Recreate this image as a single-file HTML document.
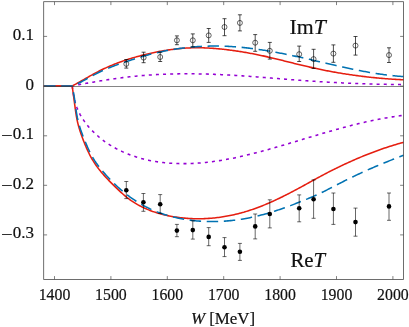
<!DOCTYPE html><html><head><meta charset="utf-8"><title>plot</title><style>html,body{margin:0;padding:0;background:#fff;overflow:hidden}body{width:409px;height:327px;font-family:"Liberation Serif",serif}</style></head><body><svg width="409" height="327" viewBox="0 0 409 327" style="display:block;will-change:transform">
<rect width="409" height="327" fill="#fff"/>
<path d="M72.20,86.00 L73.29,85.79 L74.38,85.58 L75.48,85.37 L76.57,85.16 L77.66,84.95 L78.75,84.75 L79.85,84.54 L80.94,84.34 L82.04,84.13 L83.13,83.93 L84.22,83.73 L85.32,83.53 L86.41,83.33 L87.51,83.13 L88.61,82.93 L89.70,82.74 L90.80,82.54 L91.89,82.35 L92.99,82.16 L94.09,81.97 L95.19,81.78 L96.28,81.59 L97.38,81.40 L98.48,81.22 L99.58,81.04 L100.68,80.85 L101.77,80.68 L102.87,80.50 L103.97,80.32 L105.07,80.15 L106.17,79.98 L107.27,79.81 L108.37,79.64 L109.47,79.47 L110.57,79.31 L111.67,79.14 L112.78,78.98 L113.88,78.82 L114.98,78.67 L116.08,78.51 L117.18,78.36 L118.29,78.21 L119.39,78.06 L120.49,77.92 L121.59,77.78 L122.70,77.64 L123.80,77.50 L124.91,77.36 L126.01,77.23 L127.11,77.10 L128.22,76.97 L129.32,76.84 L130.43,76.72 L131.53,76.60 L132.64,76.48 L133.74,76.37 L134.85,76.26 L135.95,76.15 L137.06,76.04 L138.17,75.94 L139.27,75.84 L140.38,75.74 L141.49,75.64 L142.59,75.55 L143.70,75.46 L144.81,75.37 L145.92,75.29 L147.02,75.20 L148.13,75.12 L149.24,75.05 L150.35,74.97 L151.46,74.90 L152.56,74.83 L153.67,74.76 L154.78,74.69 L155.89,74.63 L157.00,74.57 L158.11,74.51 L159.22,74.46 L160.33,74.40 L161.44,74.35 L162.55,74.30 L163.66,74.26 L164.77,74.21 L165.88,74.17 L166.99,74.13 L168.10,74.10 L169.21,74.06 L170.32,74.03 L171.43,74.00 L172.54,73.97 L173.65,73.95 L174.76,73.92 L175.87,73.90 L176.98,73.88 L178.09,73.86 L179.20,73.85 L180.31,73.83 L181.43,73.82 L182.54,73.81 L183.65,73.81 L184.76,73.80 L185.87,73.80 L186.98,73.80 L188.09,73.80 L189.21,73.80 L190.32,73.81 L191.43,73.81 L192.54,73.82 L193.65,73.83 L194.76,73.84 L195.88,73.86 L196.99,73.87 L198.10,73.89 L199.21,73.91 L200.32,73.93 L201.44,73.95 L202.55,73.98 L203.66,74.01 L204.77,74.03 L205.88,74.06 L207.00,74.10 L208.11,74.13 L209.22,74.16 L210.33,74.20 L211.44,74.24 L212.55,74.28 L213.67,74.32 L214.78,74.36 L215.89,74.41 L217.00,74.45 L218.11,74.50 L219.22,74.55 L220.34,74.60 L221.45,74.65 L222.56,74.71 L223.67,74.76 L224.78,74.82 L225.89,74.87 L227.00,74.93 L228.11,74.99 L229.23,75.06 L230.34,75.12 L231.45,75.18 L232.56,75.25 L233.67,75.31 L234.78,75.38 L235.89,75.45 L237.00,75.52 L238.11,75.59 L239.22,75.66 L240.33,75.74 L241.44,75.81 L242.56,75.88 L243.67,75.96 L244.78,76.04 L245.89,76.11 L247.00,76.19 L248.11,76.27 L249.22,76.35 L250.33,76.43 L251.44,76.51 L252.55,76.60 L253.66,76.68 L254.77,76.76 L255.88,76.84 L256.99,76.93 L258.10,77.01 L259.21,77.10 L260.32,77.19 L261.43,77.27 L262.54,77.36 L263.65,77.45 L264.76,77.53 L265.87,77.62 L266.98,77.71 L268.09,77.80 L269.20,77.88 L270.31,77.97 L271.42,78.06 L272.53,78.15 L273.64,78.24 L274.75,78.33 L275.86,78.42 L276.96,78.51 L278.07,78.60 L279.18,78.69 L280.29,78.77 L281.40,78.86 L282.51,78.95 L283.62,79.04 L284.73,79.13 L285.84,79.22 L286.95,79.31 L288.06,79.39 L289.17,79.48 L290.28,79.57 L291.39,79.65 L292.50,79.74 L293.61,79.83 L294.72,79.91 L295.83,80.00 L296.94,80.08 L298.05,80.16 L299.16,80.25 L300.27,80.33 L301.38,80.41 L302.49,80.49 L303.60,80.57 L304.70,80.65 L305.81,80.73 L306.92,80.81 L308.03,80.89 L309.14,80.97 L310.25,81.04 L311.36,81.12 L312.47,81.19 L313.58,81.27 L314.69,81.34 L315.80,81.41 L316.91,81.48 L318.02,81.55 L319.13,81.62 L320.24,81.69 L321.35,81.76 L322.46,81.83 L323.57,81.89 L324.68,81.96 L325.79,82.02 L326.90,82.09 L328.01,82.15 L329.12,82.21 L330.23,82.27 L331.34,82.34 L332.45,82.40 L333.56,82.45 L334.67,82.51 L335.78,82.57 L336.89,82.63 L338.00,82.68 L339.11,82.74 L340.22,82.79 L341.33,82.85 L342.44,82.90 L343.56,82.95 L344.67,83.00 L345.78,83.06 L346.89,83.11 L348.00,83.15 L349.11,83.20 L350.22,83.25 L351.33,83.30 L352.44,83.34 L353.55,83.39 L354.66,83.43 L355.77,83.48 L356.88,83.52 L358.00,83.56 L359.11,83.60 L360.22,83.64 L361.33,83.68 L362.44,83.72 L363.55,83.76 L364.66,83.79 L365.77,83.83 L366.89,83.87 L368.00,83.90 L369.11,83.94 L370.22,83.97 L371.33,84.00 L372.44,84.03 L373.56,84.06 L374.67,84.09 L375.78,84.12 L376.89,84.15 L378.00,84.18 L379.12,84.21 L380.23,84.23 L381.34,84.26 L382.45,84.28 L383.57,84.30 L384.68,84.33 L385.79,84.35 L386.90,84.37 L388.02,84.39 L389.13,84.41 L390.24,84.43 L391.35,84.45 L392.47,84.47 L393.58,84.48 L394.69,84.50 L395.81,84.51 L396.92,84.53 L398.03,84.54 L399.15,84.55 L400.26,84.56 L401.37,84.58 L402.49,84.59 L403.60,84.60" fill="none" stroke="#9400D3" stroke-width="1.55" stroke-linejoin="round" stroke-linecap="butt" stroke-dasharray="3 4.13" stroke-dashoffset="-6.13"/>
<path d="M72.20,86.00 L72.36,87.24 L72.52,88.49 L72.69,89.73 L72.87,90.98 L73.06,92.22 L73.27,93.46 L73.48,94.70 L73.72,95.94 L73.96,97.17 L74.23,98.40 L74.51,99.63 L74.81,100.84 L75.13,102.06 L75.48,103.26 L75.84,104.46 L76.23,105.65 L76.64,106.83 L77.08,108.00 L77.55,109.15 L78.04,110.30 L78.56,111.44 L79.10,112.57 L79.67,113.68 L80.26,114.79 L80.88,115.88 L81.51,116.96 L82.17,118.03 L82.85,119.09 L83.55,120.14 L84.27,121.18 L85.00,122.20 L85.76,123.21 L86.53,124.21 L87.31,125.20 L88.12,126.17 L88.94,127.13 L89.77,128.08 L90.62,129.02 L91.48,129.94 L92.35,130.85 L93.24,131.75 L94.14,132.63 L95.05,133.50 L95.98,134.36 L96.91,135.21 L97.86,136.04 L98.82,136.87 L99.80,137.67 L100.78,138.47 L101.77,139.25 L102.77,140.02 L103.79,140.77 L104.81,141.52 L105.84,142.24 L106.88,142.96 L107.93,143.66 L108.99,144.35 L110.05,145.03 L111.13,145.69 L112.21,146.34 L113.30,146.98 L114.39,147.60 L115.49,148.21 L116.60,148.81 L117.71,149.39 L118.83,149.96 L119.96,150.52 L121.09,151.06 L122.23,151.59 L123.37,152.11 L124.51,152.61 L125.67,153.10 L126.82,153.58 L127.98,154.05 L129.15,154.50 L130.32,154.94 L131.50,155.37 L132.68,155.79 L133.86,156.20 L135.05,156.59 L136.24,156.97 L137.44,157.34 L138.64,157.70 L139.84,158.05 L141.05,158.38 L142.26,158.70 L143.48,159.02 L144.69,159.32 L145.91,159.61 L147.14,159.89 L148.36,160.16 L149.59,160.41 L150.83,160.66 L152.06,160.90 L153.30,161.12 L154.54,161.34 L155.78,161.54 L157.02,161.74 L158.27,161.92 L159.51,162.10 L160.76,162.26 L162.01,162.42 L163.26,162.56 L164.51,162.70 L165.77,162.82 L167.02,162.94 L168.28,163.05 L169.54,163.15 L170.79,163.24 L172.05,163.32 L173.31,163.39 L174.57,163.45 L175.83,163.50 L177.09,163.55 L178.35,163.58 L179.61,163.61 L180.87,163.63 L182.13,163.64 L183.38,163.65 L184.64,163.64 L185.90,163.63 L187.16,163.61 L188.41,163.58 L189.67,163.54 L190.92,163.50 L192.17,163.45 L193.43,163.39 L194.68,163.32 L195.93,163.25 L197.18,163.17 L198.43,163.08 L199.68,162.99 L200.93,162.89 L202.17,162.78 L203.42,162.67 L204.67,162.55 L205.91,162.42 L207.16,162.28 L208.40,162.14 L209.64,162.00 L210.89,161.84 L212.13,161.68 L213.37,161.52 L214.61,161.35 L215.85,161.17 L217.09,160.99 L218.33,160.80 L219.57,160.61 L220.80,160.41 L222.04,160.21 L223.28,160.00 L224.51,159.78 L225.75,159.57 L226.98,159.34 L228.21,159.11 L229.45,158.88 L230.68,158.64 L231.91,158.40 L233.14,158.15 L234.37,157.90 L235.60,157.64 L236.83,157.38 L238.06,157.11 L239.29,156.85 L240.51,156.57 L241.74,156.30 L242.96,156.01 L244.19,155.73 L245.41,155.44 L246.64,155.15 L247.86,154.86 L249.08,154.56 L250.31,154.26 L251.53,153.95 L252.75,153.65 L253.97,153.33 L255.19,153.02 L256.41,152.71 L257.63,152.39 L258.84,152.06 L260.06,151.74 L261.28,151.41 L262.50,151.09 L263.71,150.75 L264.93,150.42 L266.14,150.09 L267.35,149.75 L268.57,149.41 L269.78,149.07 L270.99,148.73 L272.21,148.38 L273.42,148.04 L274.63,147.69 L275.84,147.34 L277.05,146.99 L278.26,146.64 L279.46,146.29 L280.67,145.93 L281.88,145.58 L283.09,145.23 L284.29,144.87 L285.50,144.51 L286.71,144.16 L287.91,143.80 L289.12,143.44 L290.32,143.08 L291.53,142.72 L292.73,142.36 L293.94,142.00 L295.14,141.64 L296.34,141.27 L297.55,140.91 L298.75,140.55 L299.95,140.19 L301.16,139.83 L302.36,139.46 L303.56,139.10 L304.77,138.74 L305.97,138.38 L307.17,138.02 L308.37,137.65 L309.58,137.29 L310.78,136.93 L311.98,136.57 L313.18,136.21 L314.39,135.85 L315.59,135.50 L316.79,135.14 L317.99,134.78 L319.20,134.43 L320.40,134.07 L321.60,133.72 L322.81,133.36 L324.01,133.01 L325.21,132.66 L326.42,132.31 L327.62,131.96 L328.83,131.62 L330.03,131.27 L331.24,130.93 L332.44,130.58 L333.65,130.24 L334.86,129.90 L336.06,129.57 L337.27,129.23 L338.48,128.89 L339.69,128.56 L340.89,128.23 L342.10,127.90 L343.31,127.58 L344.52,127.25 L345.73,126.93 L346.94,126.61 L348.16,126.29 L349.37,125.98 L350.58,125.66 L351.80,125.35 L353.01,125.04 L354.22,124.74 L355.44,124.44 L356.66,124.14 L357.87,123.84 L359.09,123.54 L360.31,123.25 L361.53,122.96 L362.75,122.68 L363.97,122.39 L365.19,122.11 L366.42,121.84 L367.64,121.56 L368.87,121.29 L370.09,121.03 L371.32,120.76 L372.55,120.50 L373.77,120.25 L375.00,120.00 L376.23,119.75 L377.47,119.50 L378.70,119.26 L379.93,119.02 L381.17,118.79 L382.40,118.56 L383.64,118.33 L384.88,118.11 L386.12,117.89 L387.36,117.68 L388.60,117.47 L389.84,117.26 L391.09,117.06 L392.33,116.87 L393.58,116.68 L394.83,116.49 L396.08,116.31 L397.33,116.13 L398.58,115.95 L399.84,115.79 L401.09,115.62 L402.35,115.46 L403.61,115.31" fill="none" stroke="#9400D3" stroke-width="1.55" stroke-linejoin="round" stroke-linecap="butt" stroke-dasharray="3 4.13" stroke-dashoffset="-0.02"/>
<path d="M43.7,86.0 L72.2,86.0 L72.20,86.00 L73.21,85.47 L74.22,84.92 L75.22,84.37 L76.22,83.82 L77.22,83.26 L78.21,82.70 L79.21,82.14 L80.20,81.58 L81.20,81.01 L82.19,80.45 L83.18,79.88 L84.17,79.31 L85.16,78.74 L86.16,78.18 L87.15,77.61 L88.14,77.05 L89.14,76.48 L90.13,75.92 L91.13,75.37 L92.13,74.81 L93.13,74.26 L94.13,73.71 L95.13,73.17 L96.14,72.63 L97.15,72.10 L98.17,71.58 L99.18,71.06 L100.20,70.55 L101.22,70.04 L102.25,69.54 L103.28,69.05 L104.31,68.56 L105.35,68.08 L106.39,67.61 L107.43,67.14 L108.48,66.69 L109.53,66.23 L110.58,65.78 L111.63,65.34 L112.69,64.91 L113.75,64.48 L114.81,64.06 L115.88,63.64 L116.94,63.23 L118.01,62.83 L119.09,62.43 L120.16,62.03 L121.24,61.65 L122.32,61.27 L123.40,60.89 L124.48,60.52 L125.57,60.16 L126.66,59.80 L127.75,59.44 L128.84,59.10 L129.93,58.75 L131.03,58.42 L132.13,58.09 L133.23,57.76 L134.33,57.44 L135.43,57.12 L136.53,56.81 L137.64,56.50 L138.74,56.20 L139.85,55.91 L140.96,55.62 L142.07,55.33 L143.18,55.05 L144.29,54.77 L145.41,54.50 L146.52,54.23 L147.64,53.97 L148.75,53.71 L149.87,53.45 L150.99,53.20 L152.11,52.96 L153.23,52.72 L154.35,52.48 L155.47,52.25 L156.59,52.03 L157.71,51.80 L158.84,51.59 L159.96,51.38 L161.08,51.17 L162.21,50.97 L163.33,50.77 L164.46,50.58 L165.59,50.40 L166.71,50.22 L167.84,50.04 L168.97,49.88 L170.10,49.71 L171.23,49.56 L172.36,49.40 L173.49,49.26 L174.62,49.12 L175.76,48.99 L176.89,48.86 L178.02,48.74 L179.16,48.63 L180.29,48.52 L181.43,48.42 L182.56,48.33 L183.70,48.24 L184.83,48.16 L185.97,48.08 L187.11,48.02 L188.25,47.96 L189.39,47.90 L190.52,47.86 L191.66,47.82 L192.80,47.79 L193.94,47.76 L195.08,47.75 L196.23,47.74 L197.37,47.74 L198.51,47.74 L199.65,47.75 L200.79,47.77 L201.94,47.80 L203.08,47.83 L204.22,47.87 L205.36,47.91 L206.51,47.96 L207.65,48.02 L208.79,48.08 L209.94,48.15 L211.08,48.22 L212.22,48.30 L213.36,48.38 L214.50,48.47 L215.65,48.56 L216.79,48.66 L217.93,48.76 L219.07,48.87 L220.21,48.98 L221.35,49.10 L222.49,49.22 L223.62,49.34 L224.76,49.47 L225.90,49.60 L227.04,49.74 L228.17,49.87 L229.31,50.02 L230.44,50.16 L231.58,50.31 L232.71,50.47 L233.84,50.62 L234.97,50.78 L236.11,50.95 L237.24,51.11 L238.37,51.29 L239.50,51.46 L240.63,51.64 L241.75,51.82 L242.88,52.00 L244.01,52.19 L245.14,52.38 L246.26,52.58 L247.39,52.78 L248.51,52.98 L249.63,53.18 L250.76,53.39 L251.88,53.60 L253.00,53.81 L254.12,54.03 L255.24,54.25 L256.36,54.47 L257.48,54.70 L258.60,54.93 L259.72,55.16 L260.84,55.40 L261.96,55.64 L263.07,55.88 L264.19,56.12 L265.30,56.37 L266.42,56.62 L267.53,56.87 L268.64,57.13 L269.76,57.38 L270.87,57.64 L271.98,57.91 L273.09,58.17 L274.20,58.44 L275.31,58.70 L276.42,58.97 L277.53,59.24 L278.64,59.51 L279.75,59.79 L280.86,60.06 L281.97,60.34 L283.08,60.61 L284.19,60.89 L285.29,61.16 L286.40,61.44 L287.51,61.72 L288.62,62.00 L289.73,62.27 L290.83,62.55 L291.94,62.83 L293.05,63.11 L294.16,63.38 L295.27,63.66 L296.38,63.93 L297.49,64.21 L298.60,64.48 L299.71,64.75 L300.82,65.02 L301.93,65.29 L303.04,65.56 L304.15,65.82 L305.26,66.09 L306.37,66.35 L307.49,66.61 L308.60,66.87 L309.71,67.12 L310.83,67.37 L311.94,67.62 L313.06,67.87 L314.17,68.12 L315.29,68.36 L316.41,68.60 L317.53,68.84 L318.64,69.08 L319.76,69.31 L320.88,69.54 L322.00,69.77 L323.12,69.99 L324.24,70.22 L325.36,70.44 L326.49,70.66 L327.61,70.87 L328.73,71.09 L329.86,71.30 L330.98,71.51 L332.10,71.72 L333.23,71.92 L334.35,72.12 L335.48,72.32 L336.60,72.52 L337.73,72.71 L338.86,72.90 L339.99,73.09 L341.11,73.28 L342.24,73.46 L343.37,73.65 L344.50,73.83 L345.63,74.00 L346.76,74.18 L347.89,74.35 L349.02,74.52 L350.15,74.69 L351.28,74.85 L352.41,75.02 L353.54,75.18 L354.68,75.33 L355.81,75.49 L356.94,75.64 L358.07,75.79 L359.21,75.94 L360.34,76.09 L361.48,76.23 L362.61,76.37 L363.74,76.51 L364.88,76.64 L366.02,76.78 L367.15,76.91 L368.29,77.04 L369.42,77.16 L370.56,77.29 L371.70,77.41 L372.83,77.53 L373.97,77.64 L375.11,77.75 L376.24,77.87 L377.38,77.97 L378.52,78.08 L379.66,78.18 L380.80,78.29 L381.94,78.38 L383.07,78.48 L384.21,78.57 L385.35,78.67 L386.49,78.75 L387.63,78.84 L388.77,78.92 L389.91,79.01 L391.05,79.08 L392.19,79.16 L393.33,79.24 L394.47,79.31 L395.61,79.38 L396.75,79.44 L397.89,79.51 L399.04,79.57 L400.18,79.63 L401.32,79.68 L402.46,79.74 L403.60,79.79" fill="none" stroke="#E51E10" stroke-width="1.55" stroke-linejoin="round" stroke-linecap="butt"/>
<path d="M43.7,86.0 L72.2,86.0 L72.20,86.00 L73.27,85.60 L74.33,85.17 L75.38,84.72 L76.42,84.26 L77.45,83.77 L78.48,83.28 L79.50,82.77 L80.52,82.25 L81.53,81.72 L82.54,81.18 L83.54,80.64 L84.55,80.09 L85.55,79.54 L86.55,78.99 L87.55,78.44 L88.55,77.89 L89.56,77.34 L90.56,76.79 L91.56,76.24 L92.57,75.70 L93.58,75.16 L94.59,74.63 L95.60,74.10 L96.61,73.57 L97.63,73.06 L98.65,72.55 L99.68,72.04 L100.71,71.55 L101.74,71.07 L102.78,70.59 L103.82,70.12 L104.86,69.66 L105.91,69.20 L106.96,68.75 L108.01,68.31 L109.06,67.88 L110.12,67.45 L111.18,67.02 L112.25,66.61 L113.31,66.20 L114.38,65.79 L115.45,65.39 L116.52,65.00 L117.60,64.61 L118.67,64.22 L119.75,63.84 L120.83,63.46 L121.91,63.09 L122.99,62.72 L124.07,62.35 L125.16,61.98 L126.24,61.62 L127.33,61.26 L128.41,60.91 L129.50,60.55 L130.59,60.20 L131.67,59.85 L132.76,59.50 L133.85,59.15 L134.94,58.81 L136.03,58.46 L137.12,58.12 L138.21,57.79 L139.30,57.46 L140.39,57.12 L141.49,56.80 L142.58,56.48 L143.68,56.16 L144.77,55.84 L145.87,55.53 L146.97,55.22 L148.07,54.92 L149.17,54.62 L150.28,54.33 L151.38,54.04 L152.49,53.76 L153.59,53.49 L154.70,53.21 L155.81,52.95 L156.92,52.69 L158.04,52.43 L159.15,52.18 L160.26,51.93 L161.38,51.69 L162.50,51.45 L163.62,51.22 L164.73,51.00 L165.86,50.77 L166.98,50.56 L168.10,50.35 L169.22,50.14 L170.35,49.94 L171.47,49.75 L172.60,49.55 L173.73,49.37 L174.85,49.19 L175.98,49.01 L177.11,48.84 L178.24,48.68 L179.38,48.52 L180.51,48.36 L181.64,48.21 L182.77,48.07 L183.91,47.93 L185.04,47.79 L186.18,47.66 L187.31,47.54 L188.45,47.42 L189.59,47.30 L190.72,47.19 L191.86,47.09 L193.00,46.99 L194.14,46.89 L195.28,46.80 L196.42,46.72 L197.56,46.64 L198.70,46.56 L199.84,46.49 L200.98,46.43 L202.12,46.37 L203.26,46.31 L204.40,46.26 L205.54,46.22 L206.68,46.18 L207.82,46.15 L208.96,46.12 L210.10,46.09 L211.24,46.07 L212.39,46.06 L213.53,46.05 L214.67,46.04 L215.81,46.04 L216.95,46.05 L218.09,46.06 L219.23,46.08 L220.37,46.10 L221.51,46.12 L222.65,46.15 L223.79,46.19 L224.93,46.23 L226.07,46.27 L227.20,46.32 L228.34,46.38 L229.48,46.44 L230.62,46.50 L231.75,46.57 L232.89,46.65 L234.03,46.72 L235.16,46.81 L236.30,46.89 L237.43,46.99 L238.57,47.08 L239.70,47.18 L240.84,47.29 L241.97,47.39 L243.10,47.51 L244.24,47.62 L245.37,47.74 L246.50,47.87 L247.63,48.00 L248.77,48.13 L249.90,48.27 L251.03,48.40 L252.16,48.55 L253.29,48.69 L254.42,48.84 L255.55,49.00 L256.68,49.16 L257.81,49.32 L258.94,49.48 L260.07,49.65 L261.20,49.82 L262.32,49.99 L263.45,50.17 L264.58,50.35 L265.71,50.53 L266.83,50.71 L267.96,50.90 L269.08,51.09 L270.21,51.29 L271.34,51.48 L272.46,51.68 L273.59,51.88 L274.71,52.09 L275.83,52.29 L276.96,52.50 L278.08,52.72 L279.20,52.93 L280.33,53.14 L281.45,53.36 L282.57,53.58 L283.69,53.81 L284.82,54.03 L285.94,54.26 L287.06,54.48 L288.18,54.71 L289.30,54.95 L290.42,55.18 L291.54,55.42 L292.66,55.65 L293.78,55.89 L294.89,56.13 L296.01,56.37 L297.13,56.61 L298.25,56.86 L299.37,57.10 L300.48,57.35 L301.60,57.60 L302.72,57.85 L303.83,58.10 L304.95,58.35 L306.06,58.60 L307.18,58.85 L308.29,59.11 L309.41,59.36 L310.52,59.62 L311.64,59.87 L312.75,60.13 L313.86,60.39 L314.98,60.65 L316.09,60.90 L317.20,61.16 L318.31,61.42 L319.43,61.68 L320.54,61.94 L321.65,62.20 L322.76,62.46 L323.87,62.72 L324.99,62.97 L326.10,63.23 L327.21,63.49 L328.32,63.75 L329.43,64.01 L330.54,64.26 L331.66,64.52 L332.77,64.77 L333.88,65.03 L334.99,65.28 L336.10,65.54 L337.21,65.79 L338.33,66.04 L339.44,66.29 L340.55,66.54 L341.66,66.79 L342.78,67.03 L343.89,67.28 L345.00,67.52 L346.11,67.77 L347.23,68.01 L348.34,68.25 L349.46,68.49 L350.57,68.72 L351.69,68.96 L352.80,69.19 L353.92,69.42 L355.03,69.65 L356.15,69.87 L357.26,70.10 L358.38,70.32 L359.50,70.54 L360.62,70.76 L361.73,70.97 L362.85,71.18 L363.97,71.39 L365.09,71.60 L366.21,71.80 L367.33,72.01 L368.46,72.21 L369.58,72.40 L370.70,72.59 L371.82,72.78 L372.95,72.97 L374.07,73.15 L375.20,73.33 L376.32,73.51 L377.45,73.69 L378.58,73.86 L379.71,74.02 L380.84,74.19 L381.97,74.35 L383.10,74.50 L384.23,74.65 L385.36,74.80 L386.49,74.95 L387.63,75.09 L388.76,75.22 L389.90,75.35 L391.03,75.48 L392.17,75.60 L393.31,75.72 L394.45,75.84 L395.59,75.95 L396.73,76.05 L397.87,76.16 L399.02,76.25 L400.16,76.34 L401.31,76.43 L402.45,76.51 L403.60,76.59" fill="none" stroke="#0072B2" stroke-width="1.55" stroke-linejoin="round" stroke-linecap="butt" stroke-dasharray="11.43 5.64" stroke-dashoffset="-0.29"/>
<path d="M43.7,86.0 L72.2,86.0 L72.20,86.00 L72.39,87.41 L72.58,88.82 L72.77,90.23 L72.96,91.64 L73.16,93.04 L73.34,94.45 L73.53,95.86 L73.72,97.27 L73.91,98.68 L74.10,100.09 L74.29,101.50 L74.48,102.91 L74.67,104.32 L74.86,105.72 L75.05,107.13 L75.24,108.54 L75.43,109.94 L75.63,111.35 L75.84,112.75 L76.05,114.15 L76.27,115.55 L76.51,116.95 L76.77,118.34 L77.04,119.73 L77.34,121.11 L77.65,122.49 L77.99,123.87 L78.34,125.24 L78.72,126.61 L79.11,127.97 L79.52,129.33 L79.94,130.69 L80.38,132.04 L80.84,133.39 L81.31,134.74 L81.78,136.09 L82.28,137.43 L82.78,138.77 L83.29,140.11 L83.81,141.44 L84.33,142.77 L84.87,144.10 L85.42,145.43 L85.97,146.75 L86.54,148.07 L87.12,149.37 L87.72,150.68 L88.32,151.97 L88.95,153.25 L89.59,154.53 L90.24,155.79 L90.91,157.04 L91.60,158.29 L92.31,159.51 L93.04,160.72 L93.79,161.92 L94.56,163.11 L95.35,164.28 L96.16,165.44 L96.98,166.59 L97.82,167.72 L98.68,168.85 L99.55,169.96 L100.43,171.06 L101.33,172.16 L102.25,173.24 L103.17,174.31 L104.11,175.38 L105.06,176.44 L106.02,177.49 L106.99,178.53 L107.96,179.57 L108.95,180.60 L109.95,181.62 L110.95,182.64 L111.96,183.65 L112.97,184.66 L113.99,185.67 L115.02,186.67 L116.05,187.67 L117.08,188.66 L118.11,189.65 L119.16,190.64 L120.20,191.62 L121.26,192.59 L122.32,193.55 L123.39,194.49 L124.47,195.42 L125.56,196.34 L126.67,197.24 L127.78,198.12 L128.91,198.98 L130.06,199.81 L131.21,200.63 L132.38,201.42 L133.57,202.20 L134.77,202.95 L135.98,203.68 L137.20,204.39 L138.43,205.08 L139.67,205.75 L140.93,206.40 L142.19,207.03 L143.47,207.64 L144.75,208.24 L146.05,208.81 L147.35,209.37 L148.67,209.90 L149.99,210.42 L151.32,210.92 L152.65,211.41 L154.00,211.87 L155.35,212.32 L156.71,212.75 L158.07,213.17 L159.44,213.56 L160.81,213.95 L162.19,214.31 L163.58,214.66 L164.97,214.99 L166.36,215.31 L167.76,215.62 L169.16,215.90 L170.56,216.18 L171.97,216.44 L173.37,216.68 L174.78,216.91 L176.19,217.13 L177.61,217.33 L179.02,217.52 L180.44,217.70 L181.85,217.86 L183.27,218.00 L184.69,218.14 L186.11,218.26 L187.53,218.37 L188.95,218.46 L190.37,218.54 L191.79,218.61 L193.21,218.66 L194.63,218.70 L196.06,218.73 L197.48,218.74 L198.90,218.74 L200.32,218.73 L201.74,218.71 L203.17,218.67 L204.59,218.62 L206.01,218.55 L207.43,218.48 L208.84,218.39 L210.26,218.29 L211.68,218.17 L213.09,218.05 L214.51,217.91 L215.92,217.76 L217.33,217.59 L218.74,217.41 L220.15,217.23 L221.56,217.03 L222.96,216.81 L224.37,216.59 L225.77,216.35 L227.17,216.10 L228.56,215.84 L229.96,215.56 L231.35,215.28 L232.74,214.98 L234.13,214.67 L235.51,214.35 L236.89,214.02 L238.27,213.68 L239.64,213.32 L241.02,212.95 L242.38,212.57 L243.75,212.19 L245.11,211.78 L246.47,211.37 L247.83,210.95 L249.18,210.52 L250.53,210.08 L251.88,209.62 L253.22,209.16 L254.56,208.69 L255.90,208.21 L257.23,207.72 L258.57,207.22 L259.90,206.71 L261.22,206.20 L262.54,205.67 L263.86,205.14 L265.18,204.60 L266.49,204.05 L267.81,203.50 L269.11,202.93 L270.42,202.36 L271.72,201.78 L273.02,201.20 L274.32,200.61 L275.61,200.01 L276.90,199.41 L278.19,198.80 L279.48,198.19 L280.76,197.57 L282.04,196.94 L283.32,196.31 L284.59,195.68 L285.87,195.04 L287.14,194.39 L288.40,193.74 L289.67,193.09 L290.93,192.43 L292.19,191.77 L293.44,191.11 L294.70,190.44 L295.95,189.77 L297.20,189.10 L298.45,188.42 L299.70,187.75 L300.95,187.07 L302.20,186.39 L303.44,185.71 L304.68,185.02 L305.93,184.34 L307.17,183.66 L308.42,182.97 L309.66,182.29 L310.90,181.60 L312.14,180.92 L313.39,180.24 L314.63,179.55 L315.88,178.87 L317.12,178.19 L318.37,177.51 L319.62,176.84 L320.87,176.16 L322.12,175.49 L323.37,174.82 L324.63,174.16 L325.88,173.49 L327.14,172.83 L328.40,172.18 L329.67,171.52 L330.93,170.88 L332.20,170.23 L333.47,169.59 L334.75,168.96 L336.03,168.33 L337.31,167.71 L338.59,167.08 L339.87,166.47 L341.16,165.85 L342.45,165.25 L343.73,164.64 L345.02,164.04 L346.32,163.44 L347.61,162.85 L348.90,162.26 L350.20,161.67 L351.50,161.09 L352.80,160.51 L354.10,159.94 L355.40,159.37 L356.71,158.81 L358.02,158.25 L359.32,157.70 L360.64,157.15 L361.95,156.60 L363.26,156.06 L364.58,155.52 L365.89,154.99 L367.21,154.46 L368.53,153.94 L369.86,153.43 L371.18,152.92 L372.51,152.41 L373.84,151.91 L375.17,151.41 L376.50,150.92 L377.84,150.44 L379.17,149.96 L380.51,149.48 L381.85,149.01 L383.20,148.55 L384.54,148.09 L385.89,147.64 L387.24,147.19 L388.59,146.75 L389.94,146.32 L391.30,145.89 L392.66,145.46 L394.02,145.05 L395.38,144.64 L396.74,144.23 L398.11,143.83 L399.48,143.44 L400.85,143.05 L402.22,142.67 L403.60,142.30" fill="none" stroke="#E51E10" stroke-width="1.55" stroke-linejoin="round" stroke-linecap="butt"/>
<path d="M43.7,86.0 L72.2,86.0 L72.20,86.00 L72.48,87.38 L72.76,88.76 L73.04,90.14 L73.30,91.52 L73.56,92.91 L73.81,94.29 L74.04,95.68 L74.26,97.07 L74.47,98.46 L74.68,99.86 L74.87,101.25 L75.06,102.65 L75.25,104.04 L75.44,105.44 L75.63,106.83 L75.82,108.22 L76.02,109.62 L76.23,111.01 L76.44,112.39 L76.67,113.78 L76.91,115.16 L77.16,116.54 L77.43,117.92 L77.73,119.29 L78.04,120.65 L78.38,122.02 L78.73,123.37 L79.11,124.73 L79.51,126.08 L79.92,127.42 L80.36,128.76 L80.80,130.10 L81.27,131.43 L81.74,132.76 L82.23,134.09 L82.73,135.41 L83.24,136.73 L83.76,138.05 L84.29,139.37 L84.82,140.69 L85.36,142.00 L85.90,143.31 L86.45,144.61 L87.01,145.92 L87.57,147.21 L88.15,148.51 L88.74,149.79 L89.34,151.07 L89.96,152.33 L90.59,153.59 L91.24,154.84 L91.91,156.07 L92.60,157.30 L93.30,158.51 L94.03,159.70 L94.78,160.88 L95.56,162.04 L96.35,163.20 L97.17,164.33 L98.00,165.46 L98.85,166.57 L99.72,167.68 L100.60,168.77 L101.49,169.85 L102.39,170.93 L103.31,172.00 L104.24,173.06 L105.17,174.12 L106.11,175.17 L107.06,176.21 L108.02,177.25 L108.98,178.28 L109.96,179.31 L110.94,180.32 L111.93,181.33 L112.93,182.33 L113.94,183.32 L114.96,184.30 L115.98,185.28 L117.01,186.24 L118.06,187.20 L119.11,188.14 L120.16,189.08 L121.23,190.01 L122.30,190.92 L123.39,191.83 L124.48,192.72 L125.58,193.60 L126.69,194.48 L127.80,195.34 L128.93,196.18 L130.06,197.02 L131.20,197.84 L132.35,198.65 L133.51,199.45 L134.67,200.23 L135.85,201.00 L137.03,201.76 L138.22,202.50 L139.42,203.23 L140.63,203.94 L141.85,204.64 L143.07,205.33 L144.31,205.99 L145.55,206.65 L146.80,207.28 L148.06,207.91 L149.32,208.51 L150.59,209.11 L151.87,209.68 L153.16,210.25 L154.46,210.80 L155.76,211.33 L157.06,211.85 L158.38,212.35 L159.69,212.84 L161.02,213.32 L162.35,213.78 L163.69,214.22 L165.03,214.66 L166.37,215.08 L167.72,215.48 L169.08,215.87 L170.44,216.25 L171.80,216.61 L173.17,216.96 L174.54,217.30 L175.92,217.62 L177.30,217.93 L178.68,218.23 L180.07,218.51 L181.46,218.78 L182.85,219.04 L184.24,219.28 L185.64,219.52 L187.03,219.73 L188.43,219.94 L189.83,220.13 L191.24,220.31 L192.64,220.48 L194.05,220.64 L195.45,220.78 L196.86,220.91 L198.27,221.03 L199.67,221.14 L201.08,221.24 L202.49,221.32 L203.89,221.39 L205.30,221.45 L206.71,221.50 L208.12,221.54 L209.52,221.56 L210.93,221.58 L212.34,221.58 L213.74,221.57 L215.15,221.55 L216.56,221.52 L217.96,221.48 L219.36,221.43 L220.77,221.37 L222.17,221.29 L223.57,221.21 L224.98,221.11 L226.38,221.00 L227.78,220.89 L229.18,220.76 L230.57,220.62 L231.97,220.47 L233.37,220.32 L234.76,220.15 L236.16,219.97 L237.55,219.78 L238.94,219.58 L240.33,219.37 L241.72,219.16 L243.11,218.93 L244.49,218.69 L245.88,218.44 L247.26,218.19 L248.64,217.92 L250.02,217.65 L251.40,217.36 L252.78,217.07 L254.15,216.77 L255.52,216.46 L256.89,216.14 L258.26,215.81 L259.63,215.47 L260.99,215.12 L262.36,214.77 L263.72,214.40 L265.08,214.03 L266.43,213.65 L267.78,213.26 L269.14,212.86 L270.49,212.46 L271.83,212.05 L273.18,211.63 L274.52,211.20 L275.86,210.77 L277.20,210.33 L278.54,209.88 L279.87,209.43 L281.21,208.97 L282.54,208.50 L283.87,208.03 L285.19,207.56 L286.52,207.08 L287.84,206.59 L289.17,206.10 L290.49,205.61 L291.81,205.11 L293.12,204.61 L294.44,204.10 L295.75,203.59 L297.06,203.08 L298.38,202.56 L299.69,202.04 L300.99,201.51 L302.30,200.99 L303.60,200.46 L304.91,199.93 L306.21,199.40 L307.51,198.86 L308.81,198.33 L310.11,197.79 L311.40,197.24 L312.69,196.68 L313.98,196.12 L315.26,195.54 L316.54,194.96 L317.81,194.37 L319.09,193.78 L320.36,193.17 L321.62,192.56 L322.89,191.95 L324.15,191.32 L325.41,190.70 L326.67,190.07 L327.92,189.43 L329.18,188.79 L330.43,188.15 L331.68,187.51 L332.94,186.87 L334.19,186.22 L335.44,185.57 L336.69,184.92 L337.94,184.28 L339.19,183.63 L340.45,182.99 L341.70,182.34 L342.96,181.70 L344.21,181.06 L345.47,180.43 L346.73,179.80 L347.99,179.17 L349.25,178.54 L350.52,177.92 L351.78,177.31 L353.05,176.70 L354.32,176.09 L355.59,175.48 L356.87,174.88 L358.14,174.28 L359.42,173.69 L360.70,173.10 L361.97,172.51 L363.26,171.92 L364.54,171.34 L365.82,170.76 L367.11,170.19 L368.39,169.62 L369.68,169.05 L370.97,168.49 L372.26,167.93 L373.56,167.37 L374.85,166.81 L376.14,166.26 L377.44,165.71 L378.74,165.16 L380.04,164.62 L381.34,164.08 L382.64,163.54 L383.94,163.01 L385.24,162.48 L386.55,161.95 L387.85,161.42 L389.16,160.90 L390.47,160.37 L391.78,159.86 L393.09,159.34 L394.40,158.83 L395.71,158.32 L397.02,157.81 L398.34,157.30 L399.65,156.80 L400.97,156.30 L402.28,155.80 L403.60,155.30" fill="none" stroke="#0072B2" stroke-width="1.55" stroke-linejoin="round" stroke-linecap="butt" stroke-dasharray="11.45 5.65" stroke-dashoffset="-0.44"/>
<line x1="43.7" y1="86.5" x2="403.5" y2="86.5" stroke="#333" stroke-width="0.6"/>
<path d="M126.3,59.5V68.1M124.3,59.5h4M124.3,68.1h4" stroke="#000" stroke-width="0.7" fill="none"/>
<circle cx="126.3" cy="63.9" r="2.5" fill="none" stroke="#000" stroke-width="0.6"/>
<path d="M143.6,52.2V62.7M141.6,52.2h4M141.6,62.7h4" stroke="#000" stroke-width="0.7" fill="none"/>
<circle cx="143.6" cy="57.6" r="2.5" fill="none" stroke="#000" stroke-width="0.6"/>
<path d="M160.2,52.2V61.5M158.2,52.2h4M158.2,61.5h4" stroke="#000" stroke-width="0.7" fill="none"/>
<circle cx="160.2" cy="57.0" r="2.5" fill="none" stroke="#000" stroke-width="0.6"/>
<path d="M176.9,35.9V44.7M174.9,35.9h4M174.9,44.7h4" stroke="#000" stroke-width="0.7" fill="none"/>
<circle cx="176.9" cy="40.3" r="2.5" fill="none" stroke="#000" stroke-width="0.6"/>
<path d="M192.8,33.9V46.9M190.8,33.9h4M190.8,46.9h4" stroke="#000" stroke-width="0.7" fill="none"/>
<circle cx="192.8" cy="40.3" r="2.5" fill="none" stroke="#000" stroke-width="0.6"/>
<path d="M208.7,28.5V42.4M206.7,28.5h4M206.7,42.4h4" stroke="#000" stroke-width="0.7" fill="none"/>
<circle cx="208.7" cy="35.4" r="2.5" fill="none" stroke="#000" stroke-width="0.6"/>
<path d="M224.5,18.7V35.7M222.5,18.7h4M222.5,35.7h4" stroke="#000" stroke-width="0.7" fill="none"/>
<circle cx="224.5" cy="27.0" r="2.5" fill="none" stroke="#000" stroke-width="0.6"/>
<path d="M239.9,14.8V30.9M237.9,14.8h4M237.9,30.9h4" stroke="#000" stroke-width="0.7" fill="none"/>
<circle cx="239.9" cy="22.9" r="2.5" fill="none" stroke="#000" stroke-width="0.6"/>
<path d="M255.2,34.6V51.3M253.2,34.6h4M253.2,51.3h4" stroke="#000" stroke-width="0.7" fill="none"/>
<circle cx="255.2" cy="42.7" r="2.5" fill="none" stroke="#000" stroke-width="0.6"/>
<path d="M269.8,42.4V59.1M267.8,42.4h4M267.8,59.1h4" stroke="#000" stroke-width="0.7" fill="none"/>
<circle cx="269.8" cy="50.8" r="2.5" fill="none" stroke="#000" stroke-width="0.6"/>
<path d="M299.2,46.1V61.5M297.2,46.1h4M297.2,61.5h4" stroke="#000" stroke-width="0.7" fill="none"/>
<circle cx="299.2" cy="54.2" r="2.5" fill="none" stroke="#000" stroke-width="0.6"/>
<path d="M313.6,49.3V68.4M311.6,49.3h4M311.6,68.4h4" stroke="#000" stroke-width="0.7" fill="none"/>
<circle cx="313.6" cy="59.1" r="2.5" fill="none" stroke="#000" stroke-width="0.6"/>
<path d="M333.4,44.9V62.3M331.4,44.9h4M331.4,62.3h4" stroke="#000" stroke-width="0.7" fill="none"/>
<circle cx="333.4" cy="53.6" r="2.5" fill="none" stroke="#000" stroke-width="0.6"/>
<path d="M355.5,36.5V55.1M353.5,36.5h4M353.5,55.1h4" stroke="#000" stroke-width="0.7" fill="none"/>
<circle cx="355.5" cy="45.6" r="2.5" fill="none" stroke="#000" stroke-width="0.6"/>
<path d="M389,47.8V62.5M387,47.8h4M387,62.5h4" stroke="#000" stroke-width="0.7" fill="none"/>
<circle cx="389" cy="55.1" r="2.5" fill="none" stroke="#000" stroke-width="0.6"/>
<path d="M126.3,181.5V198.6M124.3,181.5h4M124.3,198.6h4" stroke="#000" stroke-width="0.6" fill="none"/>
<circle cx="126.3" cy="190.3" r="2.3" fill="#000"/>
<path d="M143.4,193.5V211.3M141.4,193.5h4M141.4,211.3h4" stroke="#000" stroke-width="0.6" fill="none"/>
<circle cx="143.4" cy="202.3" r="2.3" fill="#000"/>
<path d="M160.2,194.6V213.5M158.2,194.6h4M158.2,213.5h4" stroke="#000" stroke-width="0.6" fill="none"/>
<circle cx="160.2" cy="204.2" r="2.3" fill="#000"/>
<path d="M176.9,224.4V236.7M174.9,224.4h4M174.9,236.7h4" stroke="#000" stroke-width="0.6" fill="none"/>
<circle cx="176.9" cy="230.6" r="2.3" fill="#000"/>
<path d="M192.8,220.8V239.1M190.8,220.8h4M190.8,239.1h4" stroke="#000" stroke-width="0.6" fill="none"/>
<circle cx="192.8" cy="230.1" r="2.3" fill="#000"/>
<path d="M208.7,227.6V245.7M206.7,227.6h4M206.7,245.7h4" stroke="#000" stroke-width="0.6" fill="none"/>
<circle cx="208.7" cy="236.9" r="2.3" fill="#000"/>
<path d="M224.5,237.6V256.6M222.5,237.6h4M222.5,256.6h4" stroke="#000" stroke-width="0.6" fill="none"/>
<circle cx="224.5" cy="247.3" r="2.3" fill="#000"/>
<path d="M239.9,243.4V260.4M237.9,243.4h4M237.9,260.4h4" stroke="#000" stroke-width="0.6" fill="none"/>
<circle cx="239.9" cy="251.8" r="2.3" fill="#000"/>
<path d="M255.2,214V238.9M253.2,214h4M253.2,238.9h4" stroke="#000" stroke-width="0.6" fill="none"/>
<circle cx="255.2" cy="226.4" r="2.3" fill="#000"/>
<path d="M269.8,199.8V227.9M267.8,199.8h4M267.8,227.9h4" stroke="#000" stroke-width="0.6" fill="none"/>
<circle cx="269.8" cy="214" r="2.3" fill="#000"/>
<path d="M299.2,194.9V221.8M297.2,194.9h4M297.2,221.8h4" stroke="#000" stroke-width="0.6" fill="none"/>
<circle cx="299.2" cy="208.3" r="2.3" fill="#000"/>
<path d="M313.6,179.9V218.3M311.6,179.9h4M311.6,218.3h4" stroke="#000" stroke-width="0.6" fill="none"/>
<circle cx="313.6" cy="199.3" r="2.3" fill="#000"/>
<path d="M333.4,193V224.4M331.4,193h4M331.4,224.4h4" stroke="#000" stroke-width="0.6" fill="none"/>
<circle cx="333.4" cy="209" r="2.3" fill="#000"/>
<path d="M355.5,208.1V236.2M353.5,208.1h4M353.5,236.2h4" stroke="#000" stroke-width="0.6" fill="none"/>
<circle cx="355.5" cy="222.1" r="2.3" fill="#000"/>
<path d="M389,193V220.3M387,193h4M387,220.3h4" stroke="#000" stroke-width="0.6" fill="none"/>
<circle cx="389" cy="206.4" r="2.3" fill="#000"/>
<rect x="43.7" y="1.7" width="359.8" height="277.8" fill="none" stroke="#4a4a4a" stroke-width="0.8"/>
<path d="M54.5,279.5v-3.4M54.5,1.7v3.4M110.9,279.5v-3.4M110.9,1.7v3.4M167.3,279.5v-3.4M167.3,1.7v3.4M223.7,279.5v-3.4M223.7,1.7v3.4M280.1,279.5v-3.4M280.1,1.7v3.4M336.5,279.5v-3.4M336.5,1.7v3.4M392.9,279.5v-3.4M392.9,1.7v3.4M43.7,36.4h3.4M403.5,36.4h-3.4M43.7,86.1h3.4M403.5,86.1h-3.4M43.7,135.8h3.4M403.5,135.8h-3.4M43.7,185.3h3.4M403.5,185.3h-3.4M43.7,234.9h3.4M403.5,234.9h-3.4" stroke="#4a4a4a" stroke-width="0.7" fill="none"/>
<g font-family="'Liberation Serif', serif" fill="#111" stroke="#111" stroke-width="0.2" style="filter:grayscale(1)">
<text x="34.0" y="40.1" font-size="17" text-anchor="end">0.1</text>
<text x="34.0" y="89.7" font-size="17" text-anchor="end">0</text>
<text x="34.0" y="139.3" font-size="17" text-anchor="end">0.1</text>
<text x="1.1" y="141.2" font-size="17" textLength="11.6" lengthAdjust="spacingAndGlyphs">−</text>
<text x="34.0" y="188.7" font-size="17" text-anchor="end">0.2</text>
<text x="1.1" y="190.6" font-size="17" textLength="11.6" lengthAdjust="spacingAndGlyphs">−</text>
<text x="34.0" y="238.2" font-size="17" text-anchor="end">0.3</text>
<text x="1.1" y="240.1" font-size="17" textLength="11.6" lengthAdjust="spacingAndGlyphs">−</text>
<text x="54.5"  y="299.5" font-size="17" text-anchor="middle" textLength="31.6" lengthAdjust="spacingAndGlyphs">1400</text>
<text x="110.9"  y="299.5" font-size="17" text-anchor="middle" textLength="31.6" lengthAdjust="spacingAndGlyphs">1500</text>
<text x="167.3"  y="299.5" font-size="17" text-anchor="middle" textLength="31.6" lengthAdjust="spacingAndGlyphs">1600</text>
<text x="223.7"  y="299.5" font-size="17" text-anchor="middle" textLength="31.6" lengthAdjust="spacingAndGlyphs">1700</text>
<text x="280.1"  y="299.5" font-size="17" text-anchor="middle" textLength="31.6" lengthAdjust="spacingAndGlyphs">1800</text>
<text x="336.5"  y="299.5" font-size="17" text-anchor="middle" textLength="31.6" lengthAdjust="spacingAndGlyphs">1900</text>
<text x="392.9"  y="299.5" font-size="17" text-anchor="middle" textLength="31.6" lengthAdjust="spacingAndGlyphs">2000</text>
 <text x="190.9" y="323.6" font-size="17" textLength="64.2" lengthAdjust="spacingAndGlyphs"><tspan font-style="italic">W</tspan> [MeV]</text>
<text x="289.6" y="33.9" font-size="21" textLength="36.3" lengthAdjust="spacingAndGlyphs">Im<tspan font-style="italic">T</tspan></text>
<text x="290.4" y="266.8" font-size="21" textLength="34.8" lengthAdjust="spacingAndGlyphs">Re<tspan font-style="italic">T</tspan></text>
</g></svg></body></html>
